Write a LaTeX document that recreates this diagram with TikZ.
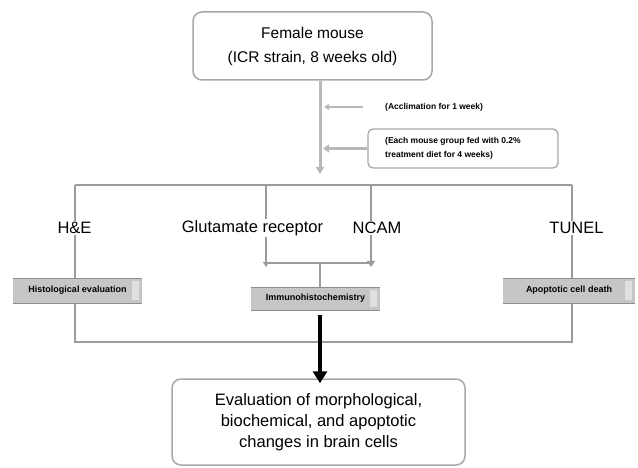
\documentclass[tikz,border=0pt]{standalone}
\usepackage{fontspec}
\setmainfont{Liberation Sans}
\usetikzlibrary{arrows.meta}
\definecolor{boxgray}{HTML}{A8A8A8}
\definecolor{trunkgray}{HTML}{B8B8B8}
\definecolor{linegray}{HTML}{9C9C9C}
\definecolor{btnfill}{HTML}{C6C6C6}
\definecolor{btnlight}{HTML}{E0E0E0}
\definecolor{btnedge}{HTML}{8E8E8E}
\tikzset{
  rbox/.style={draw=boxgray, line width=1.5pt, rounded corners=9pt, fill=white, align=center, inner sep=0pt},
  lbl/.style={font=\fontsize{16.5}{20}\selectfont, inner sep=1pt, fill=white},
  smalltxt/.style={font=\bfseries\fontsize{8.5}{14}\selectfont, align=left, inner sep=0pt},
  btn/.style={fill=btnfill, minimum height=25pt, inner sep=0pt, font=\bfseries\fontsize{9}{11}\selectfont,
    path picture={
      \fill[btnlight] ([xshift=-10pt,yshift=-3pt]path picture bounding box.north east) rectangle ([xshift=-3pt,yshift=3pt]path picture bounding box.south east);
      \draw[btnedge, line width=1.5pt] (path picture bounding box.north west) -- (path picture bounding box.north east);
      \draw[btnedge, line width=0.8pt] (path picture bounding box.south west) -- (path picture bounding box.south east);
    }},
  trunk/.style={draw=trunkgray, line width=3pt},
  brk/.style={draw=linegray, line width=1.6pt},
  gtip/.style={-{Triangle[length=7pt,width=8pt]}},
}
\begin{document}
\begin{tikzpicture}[x=1pt,y=-1pt]
\useasboundingbox (0,0) rectangle (638,468);

% top box
\node[rbox, minimum width=239pt, minimum height=68pt, font=\fontsize{15.5}{24}\selectfont] (top) at (312.5,46) {Female mouse\\(ICR strain, 8 weeks old)};

% trunk
\coordinate (tk) at (320,174);
\draw[trunk, gtip] (top.south -| tk) -- (tk);

% side inputs
\node[smalltxt, anchor=west] (t1) at (385,107) {(Acclimation for 1 week)};
\coordinate (a1) at (363,107);
\draw[draw=trunkgray, line width=1.6pt, -{Triangle[length=5pt,width=6pt]}] (a1) -- ([xshift=4pt]a1 -| tk);

\node[draw=boxgray, line width=1.3pt, rounded corners=5pt, minimum width=190pt, minimum height=39pt, inner sep=0pt] (b2) at (463,148.5) {};
\node[smalltxt, anchor=west] (t2) at (385,148.5) {(Each mouse group fed with 0.2\%\\treatment diet for 4 weeks)};
\draw[draw=trunkgray, line width=3pt, -{Triangle[length=6pt,width=8pt]}] (b2.west) -- ([xshift=3pt]b2.west -| tk);

% bracket top
\coordinate (L) at (75,185);
\coordinate (G) at (266,185);
\coordinate (N) at (371,185);
\coordinate (R) at (572,185);
\draw[brk] (L) -- (R);

% labels
\node[lbl] (he) at (74.5,228) {H\&E};
\node[lbl] (gr) at (252.5,228) {Glutamate receptor};
\node[lbl] (nc) at (377,228) {NCAM};
\node[lbl] (tu) at (576.5,228) {TUNEL};

% buttons
\node[btn, minimum width=129pt] (histo) at (77.5,290.5) {Histological evaluation};
\node[btn, minimum width=129pt, minimum height=23pt] (immu) at (315.5,298.5) {Immunohistochemistry};
\node[btn, minimum width=132pt] (apop) at (569,290.5) {Apoptotic cell death};

% left branch
\draw[brk] (L) -- (L |- he.north);
\draw[brk] (L |- he.south) -- (L |- histo.north);
\coordinate (LB) at (75,342);
\coordinate (RB) at (572,342);
\draw[brk] (L |- histo.south) -- (LB) -- (RB) -- (R |- apop.south);
% right branch
\draw[brk] (R) -- (R |- tu.north);
\draw[brk] (R |- tu.south) -- (R |- apop.north);

% middle branches
\draw[brk] (G) -- (G |- gr.north);
\draw[draw=linegray, line width=2.6pt] (N) -- (N |- nc.north);
\coordinate (GJ) at (266,263);
\coordinate (NJ) at (371,263);
\coordinate (CJ) at (320,263);
\draw[brk, -{Triangle[length=5pt,width=6pt]}] (G |- gr.south) -- ([yshift=-4pt]GJ);
\draw[draw=linegray, line width=2.6pt, -{Triangle[length=6pt,width=8pt]}] (N |- nc.south) -- ([yshift=-4pt]NJ);
\draw[brk] (GJ) -- (NJ);
\draw[brk] (CJ) -- (CJ |- immu.north);

% bottom box
\node[rbox, minimum width=293pt, minimum height=86pt, font=\fontsize{16.5}{21}\selectfont] (bot) at (318.5,422) {Evaluation of morphological,\\biochemical, and apoptotic\\changes in brain cells};

% black arrow
\coordinate (ba) at (320,315);
\draw[line width=4pt, -{Triangle[length=12pt,width=14pt]}] (ba) -- ([yshift=-5pt]bot.north -| ba);
\end{tikzpicture}
\end{document}
